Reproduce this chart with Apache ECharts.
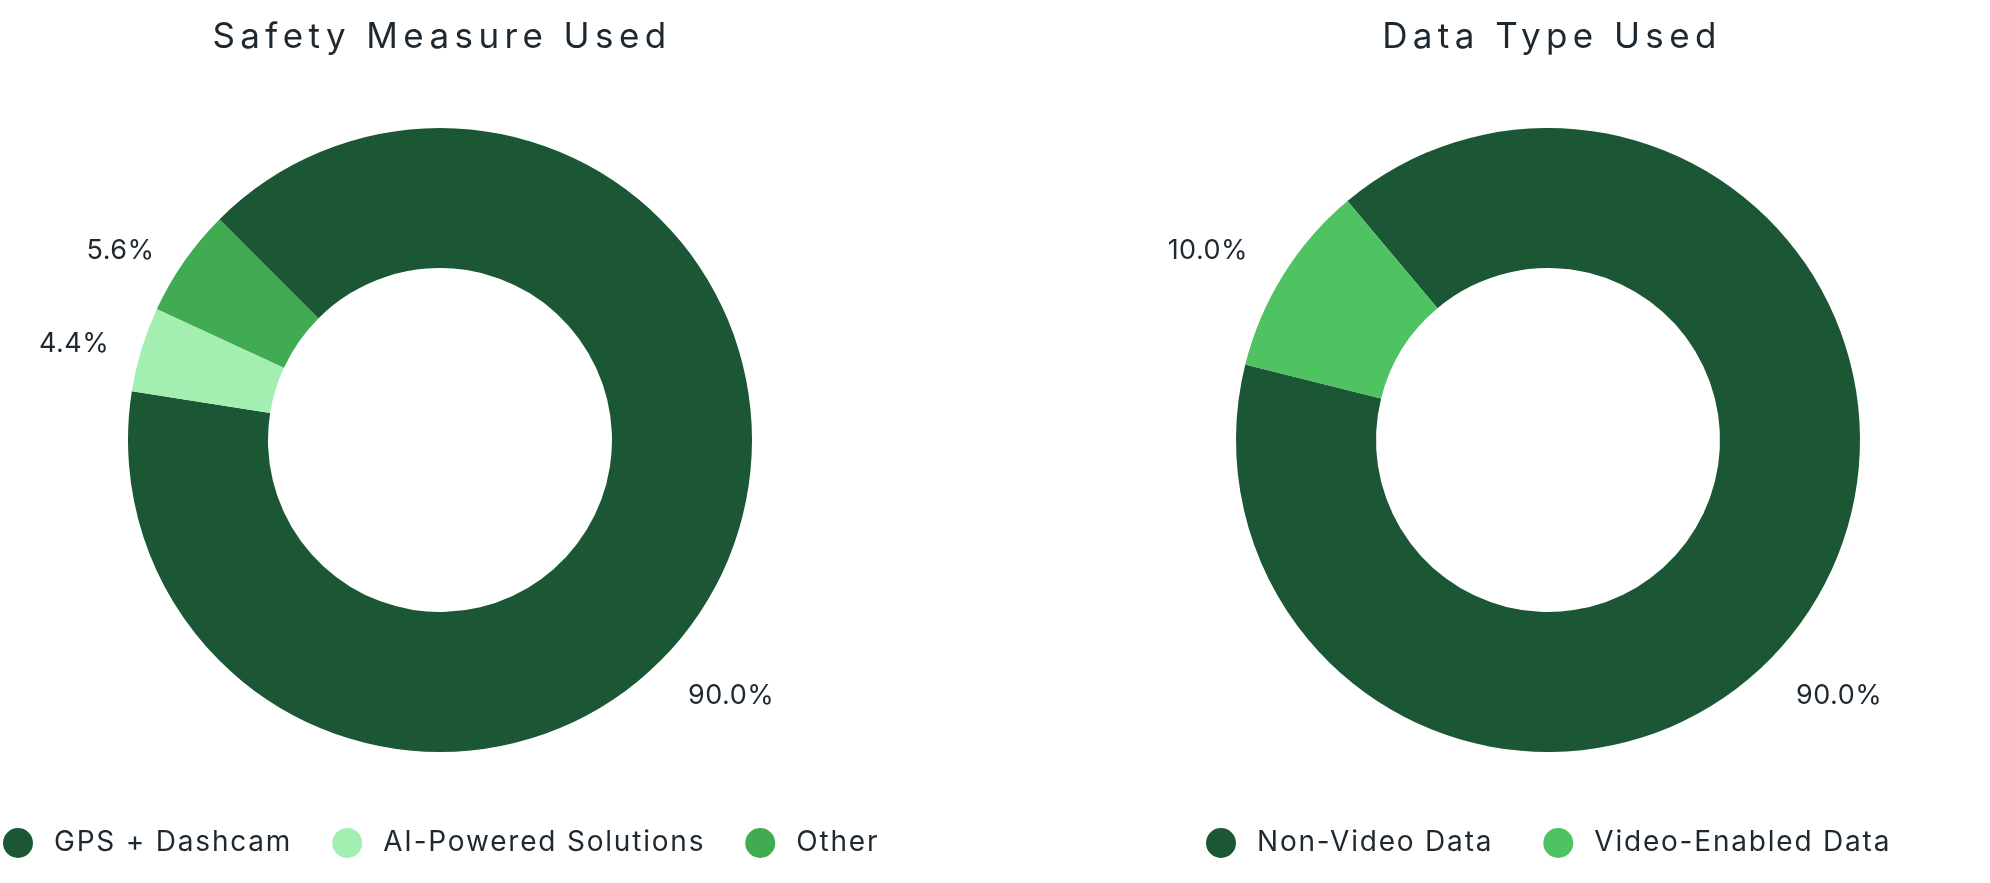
<!DOCTYPE html>
<html>
<head>
<meta charset="utf-8">
<title>Safety Measure / Data Type</title>
<script src="https://cdn.jsdelivr.net/npm/echarts@6/dist/echarts.min.js"></script>
<style>
  html, body { margin: 0; padding: 0; background: #fff; }
  #chart { width: 1990px; height: 883px; }
</style>
</head>
<body>
<div id="chart"></div>
<script>
const safetyTitle = 'Safety Measure Used';
const safetyNames = ['GPS + Dashcam', 'AI-Powered Solutions', 'Other'];
const safetyValues = [90.0, 4.4, 5.6];
const safetyColors = ['#1b5735', '#a3eeb1', '#40ab50'];

const dataTypeTitle = 'Data Type Used';
const dataTypeNames = ['Non-Video Data', 'Video-Enabled Data'];
const dataTypeValues = [90.0, 10.0];
const dataTypeColors = ['#1b5735', '#4fc262'];

const textColor = '#1e2830';
const fontFamily = 'Inter, "Noto Sans", sans-serif';

// the reference text is tracked out; canvas letterSpacing keyed on font size
const trackBySize = { 35: 5.4, 28: 1.8, 27: 0.5 };
const fontProp = Object.getOwnPropertyDescriptor(CanvasRenderingContext2D.prototype, 'font');
Object.defineProperty(CanvasRenderingContext2D.prototype, 'font', {
  configurable: true,
  get() { return fontProp.get.call(this); },
  set(v) {
    fontProp.set.call(this, v);
    const m = /(\d+)px/.exec(v);
    this.letterSpacing = ((m && trackBySize[m[1]]) || 0) + 'px';
  }
});

function toData(names, values) {
  return names.map((n, i) => ({ name: n, value: values[i] }));
}

// big slice label sits on the lower-right diagonal
function bigLabel(cx, cy) {
  return function (p) {
    if (p.dataIndex !== 0) return {};
    return { x: cx + 248, y: cy + 256, align: 'left', verticalAlign: 'middle' };
  };
}

function donut(name, names, values, colors, cx, startAngle, lineLen, lineLen2, gap) {
  return {
    name: name,
    type: 'pie',
    center: [cx, 440],
    radius: [172, 312],
    startAngle: startAngle,
    clockwise: true,
    avoidLabelOverlap: false,
    color: colors,
    data: toData(names, values),
    label: {
      show: true,
      position: 'outside',
      formatter: p => p.value.toFixed(1) + '%',
      color: textColor,
      fontFamily: fontFamily,
      fontSize: 27,
      distanceToLabelLine: gap
    },
    labelLine: { show: false, length: lineLen, length2: lineLen2 },
    labelLayout: bigLabel(cx, 440),
    emphasis: { scale: false },
    itemStyle: { borderWidth: 0 }
  };
}

const legendBase = {
  orient: 'horizontal',
  top: 828,
  padding: 0,
  icon: 'circle',
  itemWidth: 30,
  itemHeight: 30,
  itemGap: 40,
  selectedMode: false,
  textStyle: {
    color: textColor,
    fontFamily: fontFamily,
    fontSize: 28,
    padding: [0, 0, 0, 16]
  }
};

const titleStyle = { color: textColor, fontFamily: fontFamily, fontSize: 35, fontWeight: 'normal' };

const chart = echarts.init(document.getElementById('chart'));
chart.setOption({
  animation: false,
  backgroundColor: '#ffffff',
  title: [
    { text: safetyTitle, left: 437, top: 12, textAlign: 'center', textStyle: titleStyle },
    { text: dataTypeTitle, left: 1547, top: 12, textAlign: 'center', textStyle: titleStyle }
  ],
  legend: [
    Object.assign({}, legendBase, { left: 3, data: safetyNames }),
    Object.assign({}, legendBase, { left: 1206, itemGap: 50, data: dataTypeNames })
  ],
  series: [
    donut(safetyTitle, safetyNames, safetyValues, safetyColors, 440, 135, 19, 9, 5),
    donut(dataTypeTitle, dataTypeNames, dataTypeValues, dataTypeColors, 1548, 130, 44, 0, -2)
  ]
});
</script>
</body>
</html>
